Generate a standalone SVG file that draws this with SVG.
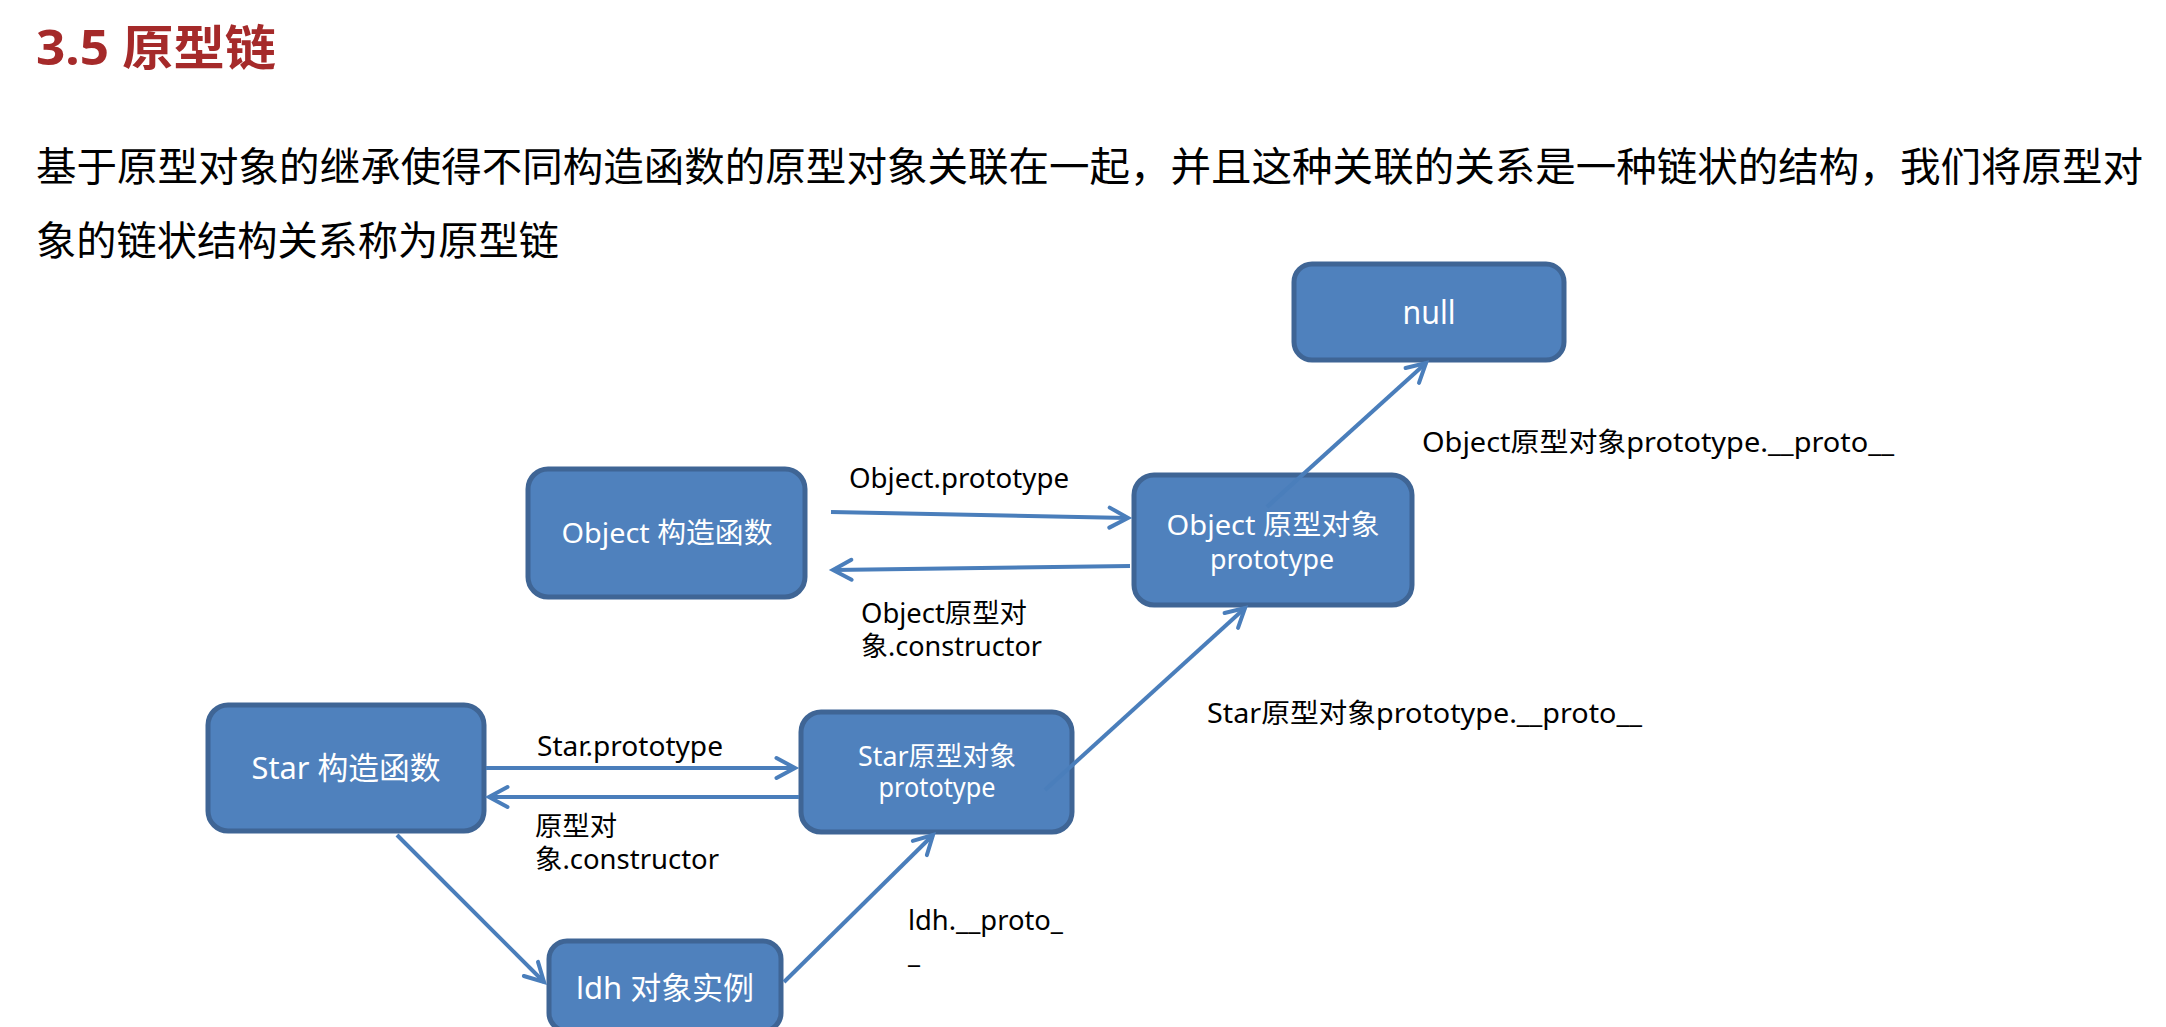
<svg xmlns="http://www.w3.org/2000/svg" width="2166" height="1027" viewBox="0 0 2166 1027">
<style>
.title{font-family:"Noto Sans","Noto Sans CJK SC",sans-serif;font-size:48px;font-weight:bold;fill:#A52A2A}
.para{font-family:"Noto Sans CJK SC",sans-serif;font-size:40px;fill:#000}
.box{fill:#4F81BD;stroke:#3F6595;stroke-width:5}
.nt{font-family:"Noto Sans","Noto Sans CJK SC",sans-serif;fill:#fff;text-anchor:middle}
.lbl{font-family:"Noto Sans","Noto Sans CJK SC",sans-serif;font-size:27px;fill:#000}
.conn{stroke:#4A7EBB;stroke-width:4;fill:none;marker-end:url(#arr)}
</style>
<defs>
<marker id="arr" viewBox="-22 -14 26 28" refX="0" refY="0" markerWidth="26" markerHeight="28" markerUnits="userSpaceOnUse" orient="auto" overflow="visible">
<path d="M-18.5,-10 L0,0 L-18.5,10" fill="none" stroke="#4A7EBB" stroke-width="4" stroke-linecap="round"/>
</marker>
</defs>
<rect width="2166" height="1027" fill="#fff"/>
<g id="heading">
<text class="title" x="36" y="65" textLength="240" lengthAdjust="spacingAndGlyphs">3.5 原型链</text>
<text class="para" x="36" y="181" textLength="2107" lengthAdjust="spacingAndGlyphs">基于原型对象的继承使得不同构造函数的原型对象关联在一起，并且这种关联的关系是一种链状的结构，我们将原型对</text>
<text class="para" x="36" y="255" textLength="523" lengthAdjust="spacingAndGlyphs">象的链状结构关系称为原型链</text>
</g>
<g id="node-null">
<rect class="box" x="1294" y="264" width="270" height="96" rx="18"/>
<text class="nt" x="1429" y="324" font-size="32" textLength="53" lengthAdjust="spacingAndGlyphs">null</text>
</g>
<g id="node-object-ctor">
<rect class="box" x="528" y="469" width="277" height="128" rx="20"/>
<text class="nt" x="667" y="543" font-size="28" textLength="211" lengthAdjust="spacingAndGlyphs">Object 构造函数</text>
</g>
<g id="node-object-proto">
<rect class="box" x="1134" y="475" width="278" height="130" rx="20"/>
<text class="nt" font-size="28"><tspan x="1273" y="535" textLength="213" lengthAdjust="spacingAndGlyphs">Object 原型对象</tspan><tspan x="1272" y="569" textLength="124" lengthAdjust="spacingAndGlyphs">prototype</tspan></text>
</g>
<g id="node-star-ctor">
<rect class="box" x="208" y="705" width="276" height="126" rx="20"/>
<text class="nt" x="346" y="779" font-size="31" textLength="189" lengthAdjust="spacingAndGlyphs">Star 构造函数</text>
</g>
<g id="node-star-proto">
<rect class="box" x="801" y="712" width="271" height="120" rx="20"/>
<text class="nt" font-size="27"><tspan x="937" y="766" textLength="158" lengthAdjust="spacingAndGlyphs">Star原型对象</tspan><tspan x="937" y="797" textLength="117" lengthAdjust="spacingAndGlyphs">prototype</tspan></text>
</g>
<g id="node-ldh">
<rect class="box" x="549" y="941" width="232" height="90" rx="18"/>
<text class="nt" x="665" y="999" font-size="31" textLength="178" lengthAdjust="spacingAndGlyphs">ldh 对象实例</text>
</g>
<g id="connectors">
<line class="conn" x1="831" y1="512" x2="1128" y2="518"/>
<line class="conn" x1="1130" y1="566" x2="833" y2="570"/>
<line class="conn" x1="486" y1="768" x2="795" y2="768"/>
<line class="conn" x1="799" y1="797" x2="489" y2="797"/>
<line class="conn" x1="397" y1="835" x2="544" y2="982"/>
<line class="conn" x1="784" y1="982" x2="933" y2="835"/>
<line class="conn" x1="1045" y1="790" x2="1245" y2="608"/>
<line class="conn" x1="1267" y1="507" x2="1426" y2="363"/>
</g>
<g id="connector-labels">
<text class="lbl" x="849" y="488" textLength="220" lengthAdjust="spacingAndGlyphs">Object.prototype</text>
<text class="lbl"><tspan x="861" y="623" textLength="166" lengthAdjust="spacingAndGlyphs">Object原型对</tspan><tspan x="861" y="656" textLength="181" lengthAdjust="spacingAndGlyphs">象.constructor</tspan></text>
<text class="lbl" x="537" y="756" textLength="186" lengthAdjust="spacingAndGlyphs">Star.prototype</text>
<text class="lbl"><tspan x="535" y="836" textLength="82" lengthAdjust="spacingAndGlyphs">原型对</tspan><tspan x="535" y="869" textLength="184" lengthAdjust="spacingAndGlyphs">象.constructor</tspan></text>
<text class="lbl"><tspan x="908" y="930" textLength="155" lengthAdjust="spacingAndGlyphs">ldh.__proto_</tspan><tspan x="908" y="963" textLength="12" lengthAdjust="spacingAndGlyphs">_</tspan></text>
<text class="lbl" x="1422" y="452" textLength="472" lengthAdjust="spacingAndGlyphs">Object原型对象prototype.__proto__</text>
<text class="lbl" x="1207" y="723" textLength="435" lengthAdjust="spacingAndGlyphs">Star原型对象prototype.__proto__</text>
</g>
</svg>
